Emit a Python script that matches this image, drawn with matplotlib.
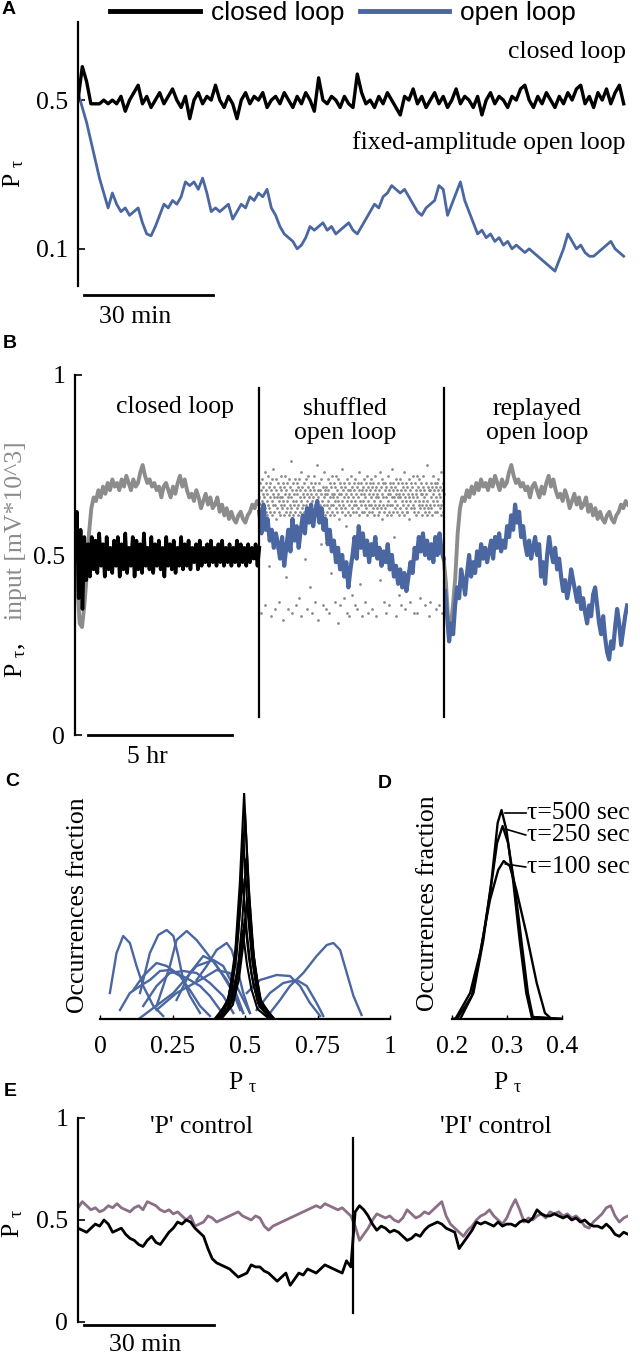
import matplotlib

matplotlib.use("Agg")
import matplotlib.pyplot as plt
import numpy as np
from matplotlib.lines import Line2D

SERIF = "Liberation Serif"
SANS = "Liberation Sans"
plt.rcParams["font.family"] = [SERIF, "DejaVu Serif"]
plt.rcParams["mathtext.fontset"] = "custom"
plt.rcParams["mathtext.rm"] = SERIF
plt.rcParams["mathtext.it"] = SERIF + ":italic"
plt.rcParams["font.size"] = 18.5

BLUE = "#4a67a1"
GRAY = "#8c8c8c"
MAUVE = "#8b6f86"
PTAU = r"P $_{\mathregular{\tau}}$"

# ---- panel A: P_tau per minute (128 min)
a_closed = [
    0.50, 0.59, 0.55, 0.49, 0.49, 0.49, 0.50, 0.49, 0.50, 0.49,
    0.51, 0.47, 0.50, 0.52, 0.54, 0.49, 0.51, 0.48, 0.50, 0.52,
    0.49, 0.51, 0.53, 0.50, 0.48, 0.51, 0.45, 0.50, 0.52, 0.49,
    0.51, 0.50, 0.54, 0.50, 0.48, 0.51, 0.49, 0.45, 0.50, 0.52,
    0.49, 0.51, 0.50, 0.52, 0.48, 0.50, 0.51, 0.49, 0.52, 0.50,
    0.48, 0.51, 0.49, 0.52, 0.50, 0.47, 0.56, 0.50, 0.49, 0.51,
    0.50, 0.48, 0.51, 0.49, 0.48, 0.57, 0.52, 0.49, 0.50, 0.48,
    0.51, 0.49, 0.52, 0.50, 0.48, 0.46, 0.51, 0.50, 0.53, 0.49,
    0.51, 0.48, 0.50, 0.52, 0.49, 0.51, 0.48, 0.50, 0.53, 0.49,
    0.51, 0.50, 0.48, 0.51, 0.46, 0.50, 0.52, 0.49, 0.51, 0.50,
    0.48, 0.51, 0.50, 0.53, 0.54, 0.50, 0.48, 0.51, 0.49, 0.52,
    0.50, 0.48, 0.51, 0.49, 0.52, 0.50, 0.53, 0.54, 0.49, 0.51,
    0.48, 0.52, 0.50, 0.53, 0.49, 0.52, 0.54, 0.49,
]
a_open = [
    0.52, 0.48, 0.44, 0.39, 0.34, 0.29, 0.25, 0.21, 0.25, 0.22,
    0.20, 0.21, 0.19, 0.20, 0.21, 0.17, 0.14, 0.135, 0.16, 0.19,
    0.22, 0.21, 0.23, 0.22, 0.24, 0.28, 0.27, 0.28, 0.26, 0.29,
    0.25, 0.20, 0.21, 0.20, 0.21, 0.22, 0.18, 0.20, 0.22, 0.21,
    0.24, 0.23, 0.25, 0.24, 0.26, 0.21, 0.19, 0.16, 0.14, 0.13,
    0.12, 0.10, 0.11, 0.13, 0.16, 0.15, 0.16, 0.17, 0.15, 0.16,
    0.14, 0.15, 0.16, 0.17, 0.15, 0.14, 0.16, 0.18, 0.20, 0.22,
    0.21, 0.24, 0.25, 0.27, 0.26, 0.25, 0.26, 0.24, 0.22, 0.20,
    0.19, 0.21, 0.22, 0.23, 0.27, 0.26, 0.19, 0.22, 0.25, 0.28,
    0.23, 0.20, 0.17, 0.14, 0.15, 0.13, 0.14, 0.12, 0.13, 0.11,
    0.12, 0.10, 0.11, 0.10, 0.09, 0.10, 0.09, 0.08, 0.07, 0.06,
    0.05, 0.04, 0.07, 0.10, 0.14, 0.12, 0.10, 0.11, 0.09, 0.08,
    0.08, 0.09, 0.10, 0.11, 0.12, 0.10, 0.09, 0.08,
]

# ---- panel B: three 6.4 hr phases
b_closed = [
    0.49, 0.62, 0.38, 0.57, 0.35, 0.55, 0.43, 0.53, 0.44, 0.55,
    0.46, 0.54, 0.45, 0.56, 0.47, 0.53, 0.44, 0.55, 0.46, 0.52,
    0.45, 0.54, 0.47, 0.55, 0.44, 0.53, 0.46, 0.56, 0.45, 0.52,
    0.47, 0.55, 0.44, 0.54, 0.46, 0.53, 0.45, 0.56, 0.47, 0.52,
    0.46, 0.55, 0.45, 0.53, 0.47, 0.54, 0.46, 0.52, 0.44, 0.55,
    0.47, 0.53, 0.46, 0.54, 0.45, 0.52, 0.47, 0.55, 0.46, 0.53,
    0.47, 0.54, 0.46, 0.52, 0.48, 0.53, 0.46, 0.54, 0.47, 0.52,
    0.48, 0.53, 0.47, 0.54, 0.48, 0.52, 0.47, 0.53, 0.48, 0.54,
    0.47, 0.52, 0.48, 0.53, 0.47, 0.52, 0.48, 0.54, 0.47, 0.53,
    0.48, 0.52, 0.47, 0.53, 0.48, 0.52, 0.49, 0.53, 0.47, 0.52,
]
b_input = [
    0.49, 0.42, 0.31, 0.30, 0.36, 0.44, 0.56, 0.63, 0.66, 0.65,
    0.68, 0.66, 0.69, 0.67, 0.70, 0.68, 0.71, 0.69, 0.70, 0.68,
    0.71, 0.69, 0.72, 0.70, 0.68, 0.71, 0.69, 0.70, 0.73, 0.75,
    0.72, 0.70, 0.71, 0.69, 0.70, 0.68, 0.69, 0.66, 0.69, 0.70,
    0.68, 0.66, 0.69, 0.67, 0.70, 0.72, 0.69, 0.71, 0.68, 0.66,
    0.67, 0.65, 0.68, 0.66, 0.63, 0.65, 0.67, 0.64, 0.66, 0.63,
    0.64, 0.66, 0.62, 0.64, 0.61, 0.63, 0.60, 0.62, 0.60, 0.59,
    0.61, 0.62, 0.60, 0.59, 0.61, 0.62, 0.64, 0.63, 0.65, 0.64,
]
b_shuffled = [
    0.62, 0.56, 0.64, 0.57, 0.60, 0.54, 0.57, 0.52, 0.56, 0.53,
    0.49, 0.55, 0.47, 0.52, 0.57, 0.51, 0.60, 0.54, 0.58, 0.52,
    0.57, 0.61, 0.56, 0.63, 0.59, 0.64, 0.58, 0.62, 0.65, 0.59,
    0.63, 0.57, 0.60, 0.53, 0.57, 0.51, 0.54, 0.48, 0.52, 0.46,
    0.50, 0.44, 0.48, 0.41, 0.46, 0.50, 0.55, 0.49, 0.58, 0.52,
    0.56, 0.50, 0.54, 0.48, 0.53, 0.50, 0.55, 0.49, 0.52, 0.47,
    0.51, 0.48, 0.53, 0.46, 0.50, 0.44, 0.47, 0.42, 0.46, 0.41,
    0.45, 0.40, 0.44, 0.48, 0.45, 0.52, 0.49, 0.55, 0.51, 0.56,
    0.50, 0.54, 0.49, 0.53, 0.48, 0.55, 0.50, 0.56, 0.51, 0.49,
]
b_shuffled_input = [
    0.66, 0.63, 0.70, 0.61, 0.68, 0.34, 0.65, 0.71, 0.62, 0.67, 0.64, 0.69, 0.60, 0.66, 0.73, 0.63, 0.36, 0.68, 0.62, 0.70,
    0.65, 0.61, 0.67, 0.72, 0.64, 0.69, 0.47, 0.63, 0.66, 0.70, 0.62, 0.68, 0.33, 0.65, 0.71, 0.61, 0.67, 0.64, 0.74, 0.66,
    0.62, 0.69, 0.35, 0.64, 0.68, 0.60, 0.71, 0.66, 0.63, 0.52, 0.67, 0.70, 0.62, 0.65, 0.37, 0.69, 0.61, 0.66, 0.72, 0.64,
    0.68, 0.63, 0.66, 0.70, 0.32, 0.65, 0.61, 0.69, 0.64, 0.72, 0.67, 0.44, 0.62, 0.68, 0.65, 0.70, 0.63, 0.35, 0.66, 0.71,
    0.61, 0.67, 0.64, 0.69, 0.62, 0.76, 0.66, 0.63, 0.34, 0.68, 0.70, 0.65, 0.61, 0.67, 0.56, 0.64, 0.71, 0.62, 0.68, 0.36,
    0.65, 0.70, 0.63, 0.67, 0.61, 0.69, 0.64, 0.38, 0.71, 0.66, 0.62, 0.68, 0.65, 0.73, 0.33, 0.63, 0.69, 0.60, 0.67, 0.64,
    0.70, 0.62, 0.66, 0.49, 0.68, 0.64, 0.71, 0.61, 0.67, 0.35, 0.65, 0.69, 0.63, 0.72, 0.66, 0.62, 0.68, 0.41, 0.64, 0.70,
    0.63, 0.67, 0.34, 0.65, 0.61, 0.69, 0.66, 0.72, 0.62, 0.68, 0.37, 0.64, 0.70, 0.63, 0.67, 0.61, 0.75, 0.65, 0.32, 0.68,
    0.66, 0.62, 0.70, 0.64, 0.68, 0.60, 0.53, 0.67, 0.71, 0.63, 0.65, 0.69, 0.36, 0.62, 0.66, 0.73, 0.64, 0.68, 0.61, 0.67,
    0.69, 0.35, 0.64, 0.67, 0.62, 0.71, 0.65, 0.68, 0.63, 0.34, 0.70, 0.66, 0.61, 0.69, 0.64, 0.45, 0.67, 0.72, 0.62, 0.66,
    0.64, 0.70, 0.61, 0.67, 0.65, 0.37, 0.69, 0.63, 0.72, 0.66, 0.62, 0.68, 0.31, 0.65, 0.71, 0.64, 0.67, 0.60, 0.70, 0.36,
    0.67, 0.63, 0.69, 0.65, 0.74, 0.62, 0.68, 0.64, 0.38, 0.70, 0.66, 0.61, 0.69, 0.63, 0.67, 0.58, 0.65, 0.71, 0.34, 0.68,
    0.62, 0.66, 0.70, 0.33, 0.64, 0.68, 0.61, 0.72, 0.65, 0.67, 0.63, 0.39, 0.69, 0.66, 0.62, 0.70, 0.64, 0.68, 0.36, 0.65,
    0.71, 0.64, 0.67, 0.62, 0.69, 0.35, 0.66, 0.63, 0.70, 0.68, 0.61, 0.73, 0.65, 0.42, 0.67, 0.64, 0.70, 0.62, 0.68, 0.33,
    0.65, 0.69, 0.62, 0.67, 0.71, 0.64, 0.37, 0.66, 0.70, 0.63, 0.68, 0.61, 0.72, 0.65, 0.34, 0.69, 0.64, 0.67, 0.62, 0.70,
    0.68, 0.64, 0.71, 0.66, 0.62, 0.69, 0.35, 0.67, 0.63, 0.70, 0.65, 0.61, 0.68, 0.72, 0.64, 0.66, 0.33, 0.69, 0.63, 0.67,
    0.61, 0.66, 0.70, 0.64, 0.68, 0.62, 0.73, 0.65, 0.43, 0.69, 0.63, 0.67, 0.71, 0.60, 0.66, 0.64, 0.70, 0.37, 0.62, 0.68,
    0.70, 0.63, 0.66, 0.34, 0.69, 0.64, 0.61, 0.67, 0.72, 0.65, 0.68, 0.62, 0.36, 0.70, 0.64, 0.67, 0.61, 0.69, 0.66, 0.74,
    0.64, 0.68, 0.62, 0.70, 0.66, 0.55, 0.63, 0.69, 0.65, 0.71, 0.33, 0.67, 0.62, 0.68, 0.64, 0.70, 0.66, 0.61, 0.39, 0.67,
    0.66, 0.71, 0.63, 0.68, 0.36, 0.65, 0.70, 0.62, 0.67, 0.64, 0.69, 0.61, 0.73, 0.66, 0.35, 0.68, 0.63, 0.70, 0.65, 0.62,
    0.69, 0.62, 0.67, 0.64, 0.71, 0.66, 0.60, 0.68, 0.37, 0.65, 0.70, 0.63, 0.67, 0.48, 0.69, 0.64, 0.72, 0.66, 0.62, 0.34,
    0.63, 0.70, 0.65, 0.68, 0.61, 0.67, 0.72, 0.34, 0.66, 0.62, 0.69, 0.64, 0.71, 0.65, 0.68, 0.38, 0.63, 0.67, 0.70, 0.64,
    0.67, 0.61, 0.69, 0.65, 0.72, 0.63, 0.68, 0.66, 0.62, 0.36, 0.70, 0.64, 0.67, 0.61, 0.75, 0.65, 0.69, 0.63, 0.33, 0.68,
    0.62, 0.68, 0.64, 0.37, 0.70, 0.66, 0.63, 0.69, 0.61, 0.67, 0.72, 0.65, 0.51, 0.68, 0.64, 0.70, 0.62, 0.66, 0.69, 0.35,
    0.70, 0.65, 0.62, 0.68, 0.64, 0.71, 0.36, 0.67, 0.63, 0.69, 0.66, 0.61, 0.73, 0.64, 0.68, 0.34, 0.65, 0.70, 0.62, 0.67,
]
b_replayed = [
    0.40, 0.33, 0.26, 0.31, 0.28, 0.36, 0.41, 0.38, 0.46, 0.43,
    0.39, 0.45, 0.50, 0.44, 0.48, 0.45, 0.51, 0.47, 0.53, 0.49,
    0.52, 0.48, 0.51, 0.54, 0.49, 0.55, 0.52, 0.56, 0.51, 0.54,
    0.52, 0.58, 0.55, 0.61, 0.57, 0.64, 0.59, 0.62, 0.55, 0.58,
    0.53, 0.50, 0.54, 0.49, 0.52, 0.55, 0.50, 0.53, 0.44, 0.48,
    0.42, 0.50, 0.55, 0.51, 0.48, 0.52, 0.46, 0.49, 0.44, 0.40,
    0.43, 0.38, 0.41, 0.46, 0.43, 0.40, 0.37, 0.41, 0.35, 0.38,
    0.34, 0.31, 0.36, 0.33, 0.39, 0.41, 0.36, 0.31, 0.28, 0.33,
    0.27, 0.23, 0.21, 0.26, 0.24, 0.30, 0.35, 0.31, 0.25, 0.29, 0.33, 0.36,
]
phase_hr = 6.4

# ---- panel C: occurrence-fraction curves (x = P_tau)
c_open_x = [
    [0.034, 0.057, 0.080, 0.103, 0.126, 0.149, 0.184, 0.218],
    [0.138, 0.172, 0.201, 0.230, 0.253, 0.270, 0.287, 0.310, 0.345],
    [0.195, 0.218, 0.241, 0.264, 0.299, 0.333, 0.368, 0.402, 0.437, 0.460, 0.483],
    [0.333, 0.368, 0.402, 0.437, 0.454, 0.471, 0.494, 0.517],
    [0.115, 0.149, 0.195, 0.230, 0.264, 0.310, 0.345, 0.379, 0.414],
    [0.149, 0.195, 0.241, 0.287, 0.333, 0.379, 0.425, 0.460],
    [0.264, 0.310, 0.356, 0.391, 0.425, 0.460, 0.494],
    [0.586, 0.621, 0.655, 0.701, 0.747, 0.782, 0.805, 0.828, 0.851, 0.874, 0.902],
    [0.506, 0.552, 0.609, 0.655, 0.690, 0.724, 0.759],
    [0.540, 0.586, 0.632, 0.678, 0.713, 0.747, 0.770],
    [0.069, 0.103, 0.138, 0.172, 0.207, 0.241, 0.276, 0.310, 0.345, 0.379],
    [0.138, 0.253, 0.333, 0.391, 0.425, 0.460, 0.494],
    [0.195, 0.264, 0.345, 0.402, 0.448, 0.483, 0.517],
]
c_open_y = [
    [0.026, 0.066, 0.083, 0.076, 0.053, 0.033, 0.013, 0.003],
    [0.026, 0.066, 0.084, 0.089, 0.083, 0.063, 0.039, 0.023, 0.006],
    [0.013, 0.033, 0.053, 0.079, 0.088, 0.079, 0.066, 0.053, 0.039, 0.026, 0.009],
    [0.039, 0.053, 0.069, 0.076, 0.069, 0.053, 0.026, 0.006],
    [0.029, 0.043, 0.056, 0.053, 0.046, 0.039, 0.033, 0.023, 0.009],
    [0.013, 0.033, 0.046, 0.048, 0.046, 0.036, 0.023, 0.006],
    [0.019, 0.046, 0.063, 0.058, 0.043, 0.026, 0.006],
    [0.006, 0.019, 0.033, 0.046, 0.063, 0.074, 0.076, 0.069, 0.046, 0.023, 0.004],
    [0.026, 0.039, 0.044, 0.043, 0.033, 0.016, 0.003],
    [0.009, 0.026, 0.036, 0.039, 0.033, 0.016, 0.003],
    [0.009, 0.026, 0.033, 0.039, 0.048, 0.049, 0.043, 0.029, 0.013, 0.003],
    [0.001, 0.026, 0.053, 0.059, 0.053, 0.033, 0.006],
    [0.009, 0.026, 0.039, 0.049, 0.046, 0.026, 0.006],
]
c_closed_x = [
    [0.405, 0.445, 0.467, 0.482, 0.497, 0.512, 0.527, 0.548, 0.590],
    [0.410, 0.450, 0.471, 0.486, 0.500, 0.515, 0.530, 0.552, 0.595],
    [0.400, 0.442, 0.464, 0.480, 0.494, 0.509, 0.525, 0.546, 0.588],
    [0.415, 0.455, 0.476, 0.490, 0.504, 0.519, 0.534, 0.556, 0.600],
    [0.395, 0.438, 0.460, 0.476, 0.491, 0.507, 0.522, 0.544, 0.585],
    [0.418, 0.458, 0.479, 0.493, 0.507, 0.522, 0.537, 0.558, 0.602],
    [0.405, 0.447, 0.469, 0.484, 0.499, 0.514, 0.529, 0.551, 0.592],
    [0.398, 0.440, 0.462, 0.477, 0.492, 0.507, 0.522, 0.543, 0.584],
]
c_closed_y = [
    [0.0, 0.022, 0.070, 0.135, 0.226, 0.135, 0.070, 0.022, 0.0],
    [0.0, 0.020, 0.064, 0.122, 0.205, 0.122, 0.064, 0.020, 0.0],
    [0.0, 0.019, 0.058, 0.108, 0.182, 0.108, 0.058, 0.019, 0.0],
    [0.0, 0.017, 0.052, 0.096, 0.160, 0.096, 0.052, 0.017, 0.0],
    [0.0, 0.016, 0.046, 0.084, 0.140, 0.084, 0.046, 0.016, 0.0],
    [0.0, 0.014, 0.040, 0.072, 0.120, 0.072, 0.040, 0.014, 0.0],
    [0.0, 0.012, 0.034, 0.060, 0.100, 0.060, 0.034, 0.012, 0.0],
    [0.0, 0.010, 0.030, 0.054, 0.088, 0.054, 0.030, 0.010, 0.0],
]

# ---- panel D: closed-loop distributions for three time windows
d_labels = ["τ=500 sec", "τ=250 sec", "τ=100 sec"]
d_x = [
    [0.200, 0.215, 0.239, 0.257, 0.272, 0.283, 0.290, 0.299, 0.311, 0.323, 0.335, 0.345, 0.400],
    [0.200, 0.209, 0.236, 0.254, 0.270, 0.282, 0.292, 0.302, 0.314, 0.326, 0.338, 0.347, 0.400],
    [0.200, 0.206, 0.233, 0.251, 0.269, 0.284, 0.294, 0.305, 0.317, 0.335, 0.354, 0.369, 0.381, 0.400],
]
d_y = [
    [0.0, 0.0, 0.026, 0.079, 0.139, 0.196, 0.209, 0.189, 0.139, 0.079, 0.026, 0.002, 0.0],
    [0.0, 0.0, 0.023, 0.073, 0.129, 0.176, 0.193, 0.176, 0.133, 0.079, 0.026, 0.002, 0.0],
    [0.0, 0.0, 0.026, 0.066, 0.119, 0.149, 0.158, 0.153, 0.129, 0.086, 0.036, 0.006, 0.0, 0.0],
]
d_label_y = [0.206, 0.184, 0.152]

# ---- panel E: 'P' then 'PI' control, per minute
e_black = [
    0.46, 0.45, 0.44, 0.46, 0.48, 0.47, 0.50, 0.48, 0.44, 0.45,
    0.46, 0.43, 0.41, 0.40, 0.38, 0.37, 0.40, 0.42, 0.39, 0.38,
    0.41, 0.44, 0.46, 0.49, 0.48, 0.50, 0.49, 0.46, 0.44, 0.42,
    0.36, 0.31, 0.29, 0.28, 0.27, 0.26, 0.24, 0.22, 0.23, 0.24,
    0.28, 0.27, 0.27, 0.25, 0.24, 0.22, 0.20, 0.22, 0.24, 0.18,
    0.21, 0.24, 0.23, 0.26, 0.25, 0.24, 0.26, 0.28, 0.27, 0.26,
    0.25, 0.24, 0.30, 0.27,
    0.54, 0.57, 0.55, 0.52, 0.48, 0.45,
    0.47, 0.46, 0.44, 0.45, 0.44, 0.42, 0.40, 0.41, 0.43, 0.42,
    0.45, 0.47, 0.48, 0.49, 0.48, 0.46, 0.45, 0.44, 0.36, 0.39,
    0.42, 0.45, 0.49, 0.48, 0.49, 0.48, 0.47, 0.49, 0.47, 0.48,
    0.48, 0.47, 0.49, 0.50, 0.49, 0.51, 0.55, 0.53, 0.52, 0.52,
    0.53, 0.52, 0.51, 0.52, 0.50, 0.51, 0.49, 0.50, 0.48, 0.47,
    0.47, 0.46, 0.48, 0.46, 0.43, 0.42, 0.44, 0.43,
]
e_mauve = [
    0.56, 0.59, 0.57, 0.55, 0.56, 0.54, 0.55, 0.57, 0.56, 0.58,
    0.56, 0.55, 0.54, 0.56, 0.57, 0.55, 0.59, 0.58, 0.57, 0.55,
    0.54, 0.55, 0.53, 0.54, 0.52, 0.50, 0.52, 0.47, 0.48, 0.49,
    0.52, 0.51, 0.49, 0.50, 0.51, 0.52, 0.53, 0.54, 0.52, 0.51,
    0.50, 0.52, 0.51, 0.47, 0.45, 0.47, 0.48, 0.49, 0.50, 0.51,
    0.52, 0.53, 0.54, 0.55, 0.56, 0.57, 0.56, 0.58, 0.57, 0.56,
    0.55, 0.56, 0.54, 0.52,
    0.47, 0.40, 0.43, 0.46, 0.50, 0.53,
    0.52, 0.51, 0.52, 0.50, 0.49, 0.51, 0.55, 0.53, 0.51, 0.52,
    0.54, 0.53, 0.55, 0.57, 0.59, 0.52, 0.48, 0.46, 0.44, 0.42,
    0.45, 0.47, 0.50, 0.52, 0.53, 0.55, 0.52, 0.50, 0.48, 0.51,
    0.56, 0.60, 0.55, 0.49, 0.51, 0.50, 0.52, 0.53, 0.51, 0.54,
    0.53, 0.54, 0.52, 0.53, 0.51, 0.52, 0.50, 0.47, 0.46, 0.49,
    0.51, 0.53, 0.56, 0.57, 0.52, 0.49, 0.51, 0.52,
]
e_switch_min = 63.5

W, H = 640, 1354
fig = plt.figure(figsize=(W / 100, H / 100), dpi=100)


def rect(left, top, right, bottom):
    return [left / W, 1 - bottom / H, (right - left) / W, (bottom - top) / H]


def ftext(x, y, s, **kw):
    fig.text(x / W, 1 - y / H, s, ha="center", va="center", **kw)


def trace_axes(box, xlim, ylim, yticks, yticklabels):
    ax = fig.add_axes(rect(*box))
    ax.set_xlim(*xlim)
    ax.set_ylim(*ylim)
    for side in ("top", "right", "bottom"):
        ax.spines[side].set_visible(False)
    ax.spines["left"].set_linewidth(1.6)
    ax.set_xticks([])
    ax.set_yticks(yticks)
    ax.set_yticklabels(yticklabels)
    ax.tick_params(axis="y", direction="in", length=5, width=1.2, pad=7)
    ax.patch.set_visible(False)
    return ax


def dist_axes(box, xlim, xticks, xticklabels):
    ax = fig.add_axes(rect(*box))
    ax.set_xlim(*xlim)
    ax.set_ylim(0, 0.226)
    for side in ("top", "right", "left"):
        ax.spines[side].set_visible(False)
    ax.spines["bottom"].set_linewidth(1.6)
    ax.set_yticks([])
    ax.set_xticks(xticks)
    ax.set_xticklabels(xticklabels)
    ax.tick_params(axis="x", direction="in", length=3, width=1, pad=12)
    ax.patch.set_visible(False)
    return ax


# ---------------- A
axA = trace_axes((78, 22, 628, 286), (0, 128), (0, 0.71), [0.1, 0.5], ["0.1", "0.5"])
t_a = np.arange(len(a_closed))
axA.plot(t_a, a_open, color=BLUE, lw=2.0)
axA.plot(t_a, a_closed, color="black", lw=2.4)
axA.text(127.5, 0.63, "closed loop", ha="right", va="center")
axA.text(127.5, 0.385, "fixed-amplitude open loop", ha="right", va="center")
axA.plot([1.4, 31.4], [-0.024, -0.024], color="black", lw=2, clip_on=False)
axA.text(13.3, -0.083, "30 min", ha="center", va="center")
ftext(14, 173, PTAU, rotation=90)
ftext(9, 9, "A", family=SANS, weight="bold", size=14)

handles = [Line2D([], [], color="black", lw=3.5), Line2D([], [], color=BLUE, lw=3.5)]
fig.legend(handles, ["closed loop", "open loop"], loc="center",
           bbox_to_anchor=(343 / W, 1 - 13 / H), ncol=2, frameon=False,
           prop={"family": SANS, "size": 19}, handlelength=3.4,
           handletextpad=0.4, columnspacing=0.6, borderpad=0)

# ---------------- B
axB = trace_axes((75, 375, 628, 735), (0, 3 * phase_hr), (0, 1), [0, 0.5, 1], ["0", "0.5", "1"])
t_in1 = np.linspace(0, phase_hr, len(b_input))
t_in3 = np.linspace(2 * phase_hr, 3 * phase_hr, len(b_input))
t_sh_in = np.linspace(phase_hr, 2 * phase_hr, len(b_shuffled_input))
axB.plot(t_in1, b_input, color=GRAY, lw=2.8)
axB.plot(t_in3, b_input, color=GRAY, lw=2.8)
axB.plot(t_sh_in, b_shuffled_input, ls="none", marker="o", ms=2.0, mew=0, color=GRAY)
axB.plot(np.linspace(0, phase_hr, len(b_closed)), b_closed, color="black", lw=2.6)
axB.plot(np.linspace(phase_hr, 2 * phase_hr, len(b_shuffled)), b_shuffled, color=BLUE, lw=3.0)
axB.plot(np.linspace(2 * phase_hr + 0.05, 3 * phase_hr - 0.03, len(b_replayed)), b_replayed,
         color=BLUE, lw=3.0)
for xs in (phase_hr, 2 * phase_hr):
    axB.plot([xs, xs], [0.05, 0.964], color="black", lw=1.6)
axB.text(3.47, 0.91, "closed loop", ha="center", va="center")
axB.text(9.37, 0.872, "shuffled\nopen loop", ha="center", va="center", linespacing=1.15)
axB.text(16.04, 0.872, "replayed\nopen loop", ha="center", va="center", linespacing=1.15)
axB.plot([0.45, 5.45], [0, 0], color="black", lw=2, clip_on=False)
axB.text(2.5, -0.061, "5 hr", ha="center", va="center")
ftext(16, 531, "input [mV*10^3]", rotation=90, color=GRAY)
ftext(16, 660, PTAU + ",", rotation=90)
ftext(10, 344, "B", family=SANS, weight="bold", size=14)

# ---------------- C
axC = dist_axes((100, 793, 390, 1019), (0, 1), [0, 0.25, 0.5, 0.75, 1],
                ["0", "0.25", "0.5", "0.75", "1"])
for xs, ys in zip(c_open_x, c_open_y):
    axC.plot(xs, ys, color=BLUE, lw=1.7)
for xs, ys in zip(c_closed_x, c_closed_y):
    axC.plot(xs, ys, color="black", lw=1.5)
ftext(78, 905, "Occurrences fraction", rotation=90)
ftext(243, 1083, PTAU)
ftext(12, 781, "C", family=SANS, weight="bold", size=14)

# ---------------- D
axD = dist_axes((452, 793, 562, 1019), (0.2, 0.4), [0.2, 0.3, 0.4], ["0.2", "0.3", "0.4"])
for xs, ys in zip(d_x, d_y):
    axD.plot(xs, ys, color="black", lw=1.7)
for lab, ly, peak in zip(d_labels, d_label_y, [max(v) for v in d_y]):
    axD.plot([0.297, 0.334], [peak - 0.003, ly], color="black", lw=1.2, clip_on=False)
    axD.text(0.336, ly, lab, ha="left", va="center", clip_on=False)
ftext(428, 903, "Occurrences fraction", rotation=90)
ftext(508, 1083, PTAU)
ftext(385, 783, "D", family=SANS, weight="bold", size=14)

# ---------------- E
axE = trace_axes((78, 1118, 628, 1322), (0, 127), (0, 1), [0, 0.5, 1], ["0", "0.5", "1"])
t_e = np.arange(len(e_black))
axE.plot(t_e, e_mauve, color=MAUVE, lw=2.0)
axE.plot(t_e, e_black, color="black", lw=2.0)
axE.plot([e_switch_min, e_switch_min], [0.044, 0.902], color="black", lw=1.6)
axE.text(28.6, 0.956, "'P' control", ha="center", va="center")
axE.text(96.5, 0.956, "'PI' control", ha="center", va="center")
axE.plot([1.4, 31.4], [-0.015, -0.015], color="black", lw=2, clip_on=False)
axE.text(15.5, -0.113, "30 min", ha="center", va="center")
ftext(13, 1223, PTAU, rotation=90)
ftext(10, 1091, "E", family=SANS, weight="bold", size=14)

fig.savefig("out.png", dpi=100)
